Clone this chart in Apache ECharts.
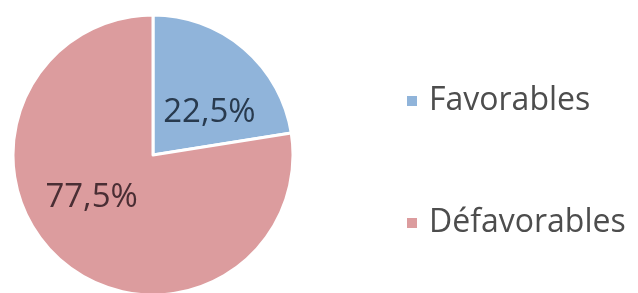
<!DOCTYPE html>
<html>
<head>
<meta charset="utf-8">
<script src="https://cdn.jsdelivr.net/npm/echarts@6/dist/echarts.min.js"></script>
<style>
  html, body { margin: 0; padding: 0; background: #fff; }
  #chart { width: 638px; height: 293px; }
</style>
</head>
<body>
<div id="chart"></div>
<script>
const categories = ["Favorables", "Défavorables"];
const shares = [22.5, 77.5];
const colors = ["#90b4da", "#dc9c9e"];
const labelColors = ["#283a4e", "#4a2e34"];

// nudge the inside labels to where they sit in the original
const labelOffsets = [[9, 13], [-14, -13]];

const chart = echarts.init(document.getElementById("chart"));

chart.setOption({
    animation: false,
    legend: {
        orient: "vertical",
        left: 400,
        top: 76,
        itemGap: 82,
        itemWidth: 12,
        itemHeight: 12,
        icon: "rect",
        textStyle: {
            fontFamily: "Open Sans",
            fontSize: 32,
            lineHeight: 40,
            color: "#4d4d4d",
            padding: [0, 0, 0, 6]
        },
        data: categories
    },
    series: [{
        type: "pie",
        center: [153, 155],
        radius: 140,
        startAngle: 90,
        clockwise: true,
        label: {
            position: "inside",
            fontFamily: "Open Sans",
            fontSize: 33,
            formatter: p => p.value.toFixed(1).replace(".", ",") + "%"
        },
        labelLine: { show: false },
        itemStyle: { borderColor: "#fff", borderWidth: 3 },
        data: categories.map((name, i) => ({
            name,
            value: shares[i],
            itemStyle: { color: colors[i] },
            label: { color: labelColors[i], offset: labelOffsets[i] }
        }))
    }]
});
</script>
</body>
</html>
